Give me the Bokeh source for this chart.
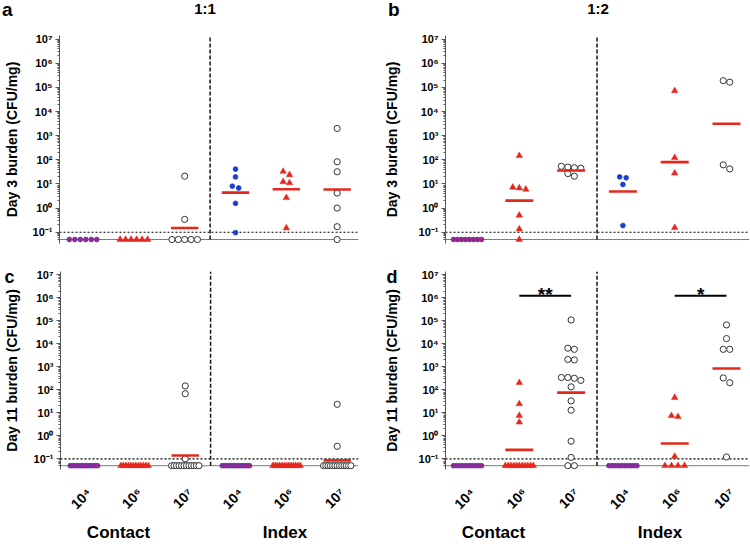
import math
import numpy as np
from bokeh.plotting import figure
from bokeh.layouts import column, row
from bokeh.models import (Range1d, FixedTicker, CustomJSTickFormatter, Span, Title, Div,
                          ColumnDataSource)
from bokeh.core.properties import value
from bokeh.embed import file_html
from bokeh.resources import INLINE

FONT = "Liberation Sans"

# ------------------------------------------------------------------ data
GROUP_LABELS = ["10⁴", "10⁶", "10⁷", "10⁴", "10⁶", "10⁷"]
SECTION_LABELS = ["Contact", "Index"]
PANEL_TITLES = ["1:1", "1:2"]
PANEL_LETTERS = ["a", "b", "c", "d"]
Y_TITLES = ["Day 3 burden (CFU/mg)", "Day 11 burden (CFU/mg)"]
Y_TICK_EXPONENTS = [-1, 0, 1, 2, 3, 4, 5, 6, 7]
BASE = 0.05   # value at which undetected samples are drawn
LOD = 0.1     # limit of detection (dotted line)

# panel a : 1:1, day 3   (order: contact 1e4, 1e6, 1e7, index 1e4, 1e6, 1e7)
a_c4 = [0.05, 0.05, 0.05, 0.05, 0.05, 0.05]
a_c6 = [0.05, 0.05, 0.05, 0.05, 0.05, 0.05]
a_c7 = [21, 0.34, 0.05, 0.05, 0.05, 0.05, 0.05]
a_i4 = [41, 19.5, 8.1, 6.8, 1.57, 0.096]
a_i6 = [33, 24, 12.3, 11, 2.7, 0.15]
a_i7 = [2000, 83, 32, 4.2, 1.0, 0.17, 0.05]
a_means = [None, None, 0.15, 4.4, 6.0, 5.9]

# panel b : 1:2, day 3
b_c4 = [0.05, 0.05, 0.05, 0.05, 0.05, 0.05, 0.05, 0.05]
b_c6 = [148, 6.8, 6.0, 7.3, 0.5, 0.135, 0.05]
b_c7 = [50, 47, 45, 54, 27, 21]
b_i4 = [18, 19.5, 9.5, 0.19]
b_i6 = [72000, 123, 28, 0.155]
b_i7 = [190000, 165000, 62, 42]
b_means = [None, 2.05, 36, 4.9, 80, 3100]

# panel c : 1:1, day 11
c_c4 = [0.05, 0.05, 0.05, 0.05, 0.05, 0.05, 0.05, 0.05, 0.05, 0.05, 0.05, 0.05]
c_c6 = [0.05, 0.05, 0.05, 0.05, 0.05, 0.05, 0.05, 0.05, 0.05, 0.05, 0.05, 0.05]
c_c7 = [148, 68, 0.1, 0.05, 0.05, 0.05, 0.05, 0.05, 0.05, 0.05, 0.05, 0.05, 0.05, 0.05, 0.05]
c_i4 = [0.05, 0.05, 0.05, 0.05, 0.05, 0.05, 0.05, 0.05, 0.05, 0.05, 0.05, 0.05]
c_i6 = [0.05, 0.05, 0.05, 0.05, 0.05, 0.05, 0.05, 0.05, 0.05, 0.05, 0.05, 0.05, 0.05]
c_i7 = [23.5, 0.35, 0.05, 0.05, 0.05, 0.05, 0.05, 0.05, 0.05, 0.05, 0.05, 0.05, 0.05, 0.05, 0.05]
c_means = [None, None, 0.14, None, None, 0.085]

# panel d : 1:2, day 11
d_c4 = [0.05, 0.05, 0.05, 0.05, 0.05, 0.05, 0.05, 0.05, 0.05, 0.05]
d_c6 = [205, 24.5, 7.6, 3.9, 0.05, 0.05, 0.05, 0.05, 0.05, 0.05, 0.05, 0.05, 0.05, 0.05, 0.05]
d_c7 = [110000, 5800, 6500, 2000, 2100, 345, 320, 345, 257, 135, 33, 13, 0.58, 0.115, 0.05, 0.05]
d_i4 = [0.05, 0.05, 0.05, 0.05, 0.05, 0.05, 0.05, 0.05, 0.05, 0.05]
d_i6 = [46, 6.8, 7.5, 0.126, 0.05, 0.05, 0.05, 0.05]
d_i7 = [67000, 17000, 5800, 5800, 330, 205, 0.12]
d_means = [None, 0.245, 76, None, 0.46, 850]
d_sig_pairs = [(2, 3), (5, 6)]
d_sig_text = ["**", "*"]
d_sig_level = 1.23e6

# ------------------------------------------------------------------ style
PURPLE = "#962a8c"
PURPLE_EDGE = "#5b35b0"
BLUE = "#1c3ed0"
RED = "#e5281d"
Y_START = 10 ** -1.466
Y_END = 10 ** 7.15
PX_PER_UNIT = 51.8
W = 375


def dodge(vals):
    logs = np.log10(np.asarray(vals, dtype=float))
    order = np.argsort(-logs, kind="stable")
    rows = []
    for i in order:
        if rows and logs[rows[-1][0]] - logs[i] < 0.25:
            rows[-1].append(i)
        else:
            rows.append([i])
    off = np.zeros(len(logs))
    for r in rows:
        n = len(r)
        if n > 1:
            sp = min(6.5, 28.0 / (n - 1))
            for k, i in enumerate(r):
                off[i] = (k - (n - 1) / 2) * sp / PX_PER_UNIT
    return off


def make_panel(groups, means, xr, left, right, top, bottom, height, show_x,
               ytitle, ytitle_standoff, sig_pairs=None, sig_text=None, sig_level=None):
    p = figure(width=W, height=height, x_range=Range1d(*xr),
               y_range=Range1d(Y_START, Y_END), y_axis_type="log",
               x_axis_location="below" if show_x else None,
               toolbar_location=None, output_backend="svg",
               min_border_left=left, min_border_right=right,
               min_border_top=top, min_border_bottom=bottom)
    p.outline_line_color = None
    p.grid.visible = False
    p.background_fill_color = "white"
    p.border_fill_color = "white"

    # y axis
    yax = p.yaxis[0]
    yax.ticker = FixedTicker(
        ticks=[10.0 ** e for e in Y_TICK_EXPONENTS],
        minor_ticks=[k * 10.0 ** e for e in range(-2, 7) for k in range(2, 10)
                     if 0.05 <= k * 10.0 ** e <= 1e7])
    yax.formatter = CustomJSTickFormatter(code="""
        const sup = {"-": "\u207b", "0": "\u2070", "1": "\u00b9", "2": "\u00b2", "3": "\u00b3",
                     "4": "\u2074", "5": "\u2075", "6": "\u2076", "7": "\u2077", "8": "\u2078", "9": "\u2079"};
        const e = Math.round(Math.log10(tick));
        return "10" + String(e).split("").map(c => sup[c]).join("");
    """)
    yax.axis_line_color = "#555555"
    yax.major_tick_line_color = "#555555"
    yax.minor_tick_line_color = "#555555"
    yax.major_tick_out = 4
    yax.major_tick_in = 0
    yax.minor_tick_out = 2
    yax.minor_tick_in = 0
    yax.major_label_standoff = 3
    yax.major_label_text_font = FONT
    yax.major_label_text_font_style = "bold"
    yax.major_label_text_font_size = "11px"
    yax.major_label_text_color = "black"
    yax.axis_label = ytitle
    yax.axis_label_standoff = ytitle_standoff
    yax.axis_label_text_font = FONT
    yax.axis_label_text_font_style = "bold"
    yax.axis_label_text_font_size = "14px"
    yax.axis_label_text_color = "black"

    if show_x:
        xax = p.xaxis[0]
        xax.ticker = FixedTicker(ticks=[1.1, 2.1, 3.1, 4.1, 5.1, 6.1])
        xax.formatter = CustomJSTickFormatter(args=dict(labels=GROUP_LABELS),
                                              code="return labels[Math.round(tick) - 1];")
        xax.axis_line_color = None
        xax.major_tick_line_color = None
        xax.minor_tick_line_color = None
        xax.major_label_orientation = math.pi / 4
        xax.major_label_standoff = 15
        xax.major_label_text_font = FONT
        xax.major_label_text_font_style = "bold"
        xax.major_label_text_font_size = "14px"
        xax.major_label_text_color = "black"

    # reference lines
    p.add_layout(Span(location=BASE, dimension="width", line_color="#7a7a7a",
                      line_width=1, level="underlay"))
    p.add_layout(Span(location=LOD, dimension="width", line_color="#000000",
                      line_width=1.2, line_dash="2 2", level="underlay"))
    p.segment(x0=[3.5], y0=[BASE], x1=[3.5], y1=[Y_END], line_color="#111111",
              line_width=1.5, line_dash="4 2")

    dots = dict(x=[], y=[], fill=[], line=[])
    tris = dict(x=[], y=[])
    opens = dict(x=[], y=[])
    for g, vals in enumerate(groups):
        xs = (g + 1) + dodge(vals)
        kind = g % 3
        for xv, yv in zip(xs, vals):
            if kind == 0:
                dots["x"].append(xv)
                dots["y"].append(yv)
                if yv <= BASE:
                    dots["fill"].append(PURPLE)
                    dots["line"].append(PURPLE_EDGE)
                else:
                    dots["fill"].append(BLUE)
                    dots["line"].append(BLUE)
            elif kind == 1:
                tris["x"].append(xv)
                tris["y"].append(yv)
            else:
                opens["x"].append(xv)
                opens["y"].append(yv)

    p.scatter("x", "y", source=ColumnDataSource(opens), marker="circle", size=6.2,
              fill_color="white", line_color="#333333", line_width=1)
    p.scatter("x", "y", source=ColumnDataSource(tris), marker="triangle", size=6.5,
              fill_color=RED, line_color=RED, line_width=0.5)
    p.scatter("x", "y", source=ColumnDataSource(dots), marker="circle", size=4.8,
              fill_color="fill", line_color="line", line_width=0.8)

    mx0, mx1, my = [], [], []
    for g, m in enumerate(means):
        if m is not None:
            mx0.append(g + 1 - 0.27)
            mx1.append(g + 1 + 0.27)
            my.append(m)
    p.segment(x0=mx0, y0=my, x1=mx1, y1=my, line_color=RED, line_width=2.6)

    if sig_pairs:
        p.segment(x0=[a for a, b in sig_pairs], x1=[b for a, b in sig_pairs],
                  y0=[sig_level] * len(sig_pairs), y1=[sig_level] * len(sig_pairs),
                  line_color="black", line_width=2)
        p.text(x=[(a + b) / 2 for a, b in sig_pairs], y=[sig_level] * len(sig_pairs),
               text=sig_text, text_font=value(FONT), text_font_style="bold",
               text_font_size="19px", text_align="center", text_baseline="alphabetic",
               y_offset=-1, text_color="black")
    return p


def letter_title(p, text, offset):
    p.add_layout(Title(text=text, align="left", offset=offset, standoff=-30,
                       text_font=FONT, text_font_style="bold", text_font_size="18px",
                       text_color="black", vertical_align="bottom"), "above")


def span(text, x, top, size, center=False):
    tr = "transform:translateX(-50%);" if center else ""
    return (f'<span style="position:absolute;left:{x}px;top:{top}px;font-size:{size}px;'
            f'line-height:{size}px;white-space:nowrap;{tr}">{text}</span>')


def strip(spans, height):
    html = ('<div style="position:relative;width:750px;height:%dpx;'
            "font-family:'Liberation Sans',Arial,sans-serif;font-weight:bold;color:black;\">"
            % height) + "".join(spans) + "</div>"
    return Div(text=html, width=750, height=height, margin=(0, 0, 0, 0))


XR_LEFT = (0.537, 6.42)
XR_RIGHT = (0.575, 6.444)

fa = make_panel([a_c4, a_c6, a_c7, a_i4, a_i6, a_i7], a_means, XR_LEFT,
                53, 17, 7, 5, 220, False, Y_TITLES[0], 10)
fb = make_panel([b_c4, b_c6, b_c7, b_i4, b_i6, b_i7], b_means, XR_RIGHT,
                70, 1, 7, 5, 220, False, Y_TITLES[0], 16)
fc = make_panel([c_c4, c_c6, c_c7, c_i4, c_i6, c_i7], c_means, XR_LEFT,
                53, 17, 23, 41, 272, True, Y_TITLES[1], 11)
fd = make_panel([d_c4, d_c6, d_c7, d_i4, d_i6, d_i7], d_means, XR_RIGHT,
                70, 1, 23, 41, 272, True, Y_TITLES[1], 16,
                d_sig_pairs, d_sig_text, d_sig_level)

letter_title(fc, PANEL_LETTERS[2], -56)
letter_title(fd, PANEL_LETTERS[3], -59)

top_strip = strip([
    span(PANEL_LETTERS[0], 2, 0, 19),
    span(PANEL_TITLES[0], 205, 1, 15, center=True),
    span(PANEL_LETTERS[1], 388, 0, 19),
    span(PANEL_TITLES[1], 598, 1, 15, center=True),
], 28)

bottom_strip = strip([
    span(SECTION_LABELS[0], 118.5, 4, 17, center=True),
    span(SECTION_LABELS[1], 285, 4, 17, center=True),
    span(SECTION_LABELS[0], 493.5, 4, 17, center=True),
    span(SECTION_LABELS[1], 660, 4, 17, center=True),
], 26)

layout = column(top_strip, row(fa, fb), row(fc, fd), bottom_strip)

with open("out.html", "w", encoding="utf-8") as f:
    f.write(file_html(layout, INLINE))
